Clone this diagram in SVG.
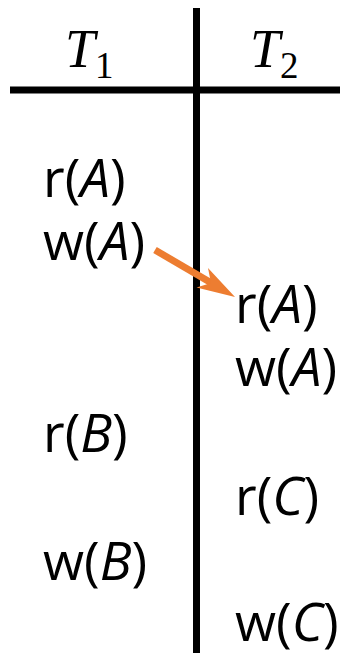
<svg xmlns="http://www.w3.org/2000/svg" width="348" height="653" viewBox="0 0 348 653">
<style>
.op{font-family:"Open Sans","Noto Sans",sans-serif;font-size:53px;fill:#000}
.v{font-style:italic}
.hd{font-family:"Liberation Serif","DejaVu Serif",serif;font-size:54px;fill:#000}
.sub{font-size:37px;font-style:normal}
.rule{stroke:#000;stroke-width:7}
</style>
<rect width="348" height="653" fill="#fff"/>
<g id="grid">
<line class="rule" x1="10" y1="90" x2="340" y2="90" stroke-width="8"/>
<line class="rule" x1="196.5" y1="8" x2="196.5" y2="653"/>
</g>
<g id="header-T1"><text class="hd" x="65" y="67"><tspan font-style="italic">T</tspan><tspan class="sub" dy="11">1</tspan></text></g>
<g id="header-T2"><text class="hd" x="250" y="67"><tspan font-style="italic">T</tspan><tspan class="sub" dy="11">2</tspan></text></g>
<g id="t1-rA"><text class="op" x="43" y="197">r(<tspan class="v">A</tspan>)</text></g>
<g id="t1-wA"><text class="op" x="43" y="260">w(<tspan class="v">A</tspan>)</text></g>
<g id="t2-rA"><text class="op" x="235" y="323">r(<tspan class="v">A</tspan>)</text></g>
<g id="t2-wA"><text class="op" x="235" y="386">w(<tspan class="v">A</tspan>)</text></g>
<g id="t1-rB"><text class="op" x="43" y="452">r(<tspan class="v">B</tspan>)</text></g>
<g id="t2-rC"><text class="op" x="235" y="515">r(<tspan class="v">C</tspan>)</text></g>
<g id="t1-wB"><text class="op" x="43" y="580">w(<tspan class="v">B</tspan>)</text></g>
<g id="t2-wC"><text class="op" x="235" y="641">w(<tspan class="v">C</tspan>)</text></g>
<g id="connectors">
<line x1="155" y1="250" x2="214" y2="284.6" stroke="#ED7D31" stroke-width="7"/>
<path d="M235,297 L196.5,287.5 L211,283 L208,268 Z" fill="#ED7D31"/>
</g>
</svg>
